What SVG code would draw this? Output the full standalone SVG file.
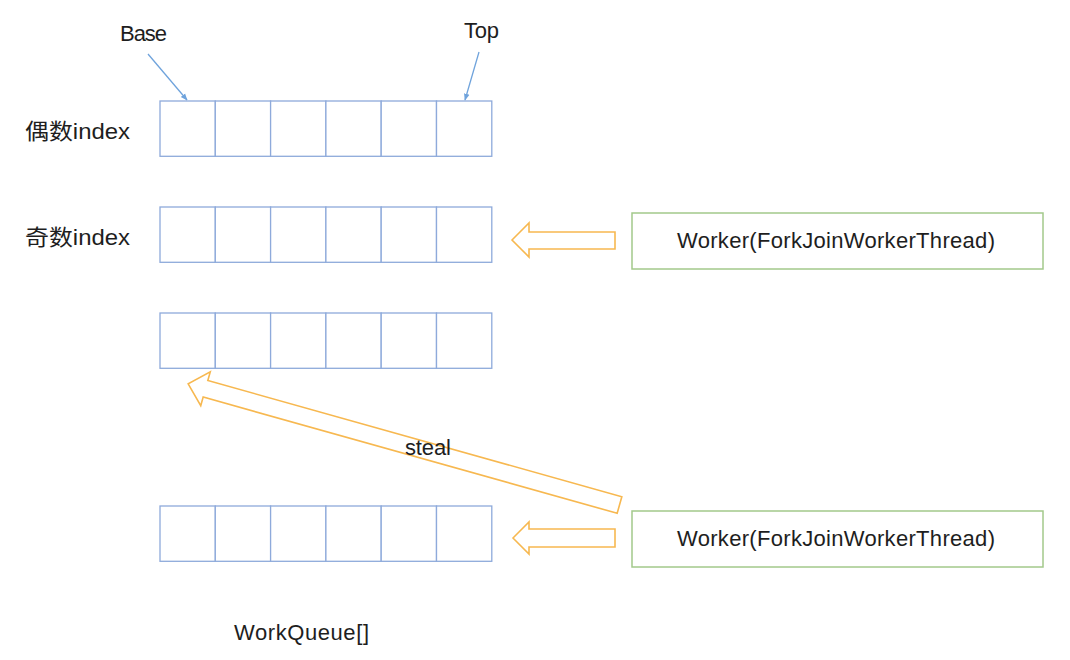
<svg xmlns="http://www.w3.org/2000/svg" width="1070" height="660" viewBox="0 0 1070 660">
<style>
text{font-family:"Liberation Sans","Noto Sans CJK SC",sans-serif;fill:#1e1e1e;font-size:22px}
.cell{fill:#fff;stroke:#8eaadb;stroke-width:1.3}
.worker{fill:#fff;stroke:#a3c98b;stroke-width:1.5}
.hollow{fill:#fff;stroke:#f7b850;stroke-width:1.6;stroke-linejoin:miter}
.ptr{stroke:#6fa3dc;stroke-width:1.3;fill:none}
</style>
<defs>
<marker id="ah" viewBox="0 0 10 10" refX="9" refY="5" markerWidth="7" markerHeight="7" orient="auto" markerUnits="userSpaceOnUse">
<path d="M0,1 L10,5 L0,9 z" fill="#6fa3dc"/>
</marker>
<g id="row">
<rect class="cell" x="0" y="0" width="55.3" height="55.3"/>
<rect class="cell" x="55.3" y="0" width="55.3" height="55.3"/>
<rect class="cell" x="110.6" y="0" width="55.3" height="55.3"/>
<rect class="cell" x="165.9" y="0" width="55.3" height="55.3"/>
<rect class="cell" x="221.2" y="0" width="55.3" height="55.3"/>
<rect class="cell" x="276.5" y="0" width="55.3" height="55.3"/>
</g>
</defs>
<rect width="1070" height="660" fill="#fff"/>

<g id="queue-even"><use href="#row" x="160" y="101"/></g>
<g id="queue-odd"><use href="#row" x="160" y="207"/></g>
<g id="queue-3"><use href="#row" x="160" y="313"/></g>
<g id="queue-4"><use href="#row" x="160" y="506"/></g>

<g id="label-even"><text x="25" y="139" font-size="22" textLength="105" lengthAdjust="spacingAndGlyphs">偶数index</text></g>
<g id="label-odd"><text x="25" y="245" font-size="22" textLength="105" lengthAdjust="spacingAndGlyphs">奇数index</text></g>
<g id="label-base"><text x="120" y="41" font-size="20.5" textLength="47">Base</text></g>
<g id="label-top"><text x="464" y="38" font-size="20.5" textLength="35">Top</text></g>
<g id="label-workqueue"><text x="234" y="640" font-size="22" textLength="135">WorkQueue[]</text></g>

<g id="worker-1">
<rect class="worker" x="632" y="213" width="411" height="56"/>
<text x="677" y="248" textLength="318">Worker(ForkJoinWorkerThread)</text>
</g>
<g id="worker-2">
<rect class="worker" x="632" y="511" width="411" height="56"/>
<text x="677" y="546" textLength="318">Worker(ForkJoinWorkerThread)</text>
</g>

<g id="connectors">
<line class="ptr" x1="148" y1="54" x2="187" y2="100" marker-end="url(#ah)"/>
<line class="ptr" x1="479" y1="52" x2="465" y2="100" marker-end="url(#ah)"/>
<polygon class="hollow" points="512,240 529,223 529,232 615,232 615,249 529,249 529,257"/>
<polygon class="hollow" points="513,538 529,522 529,529 615,529 615,547 529,547 529,554"/>
<polygon class="hollow" transform="translate(619.5,505) rotate(195.68)" points="0,-8.6 430,-8.6 430,-17.6 448,0 430,17.6 430,8.6 0,8.6"/>
<text x="405" y="455" font-size="22" textLength="46">steal</text>
</g>
</svg>
